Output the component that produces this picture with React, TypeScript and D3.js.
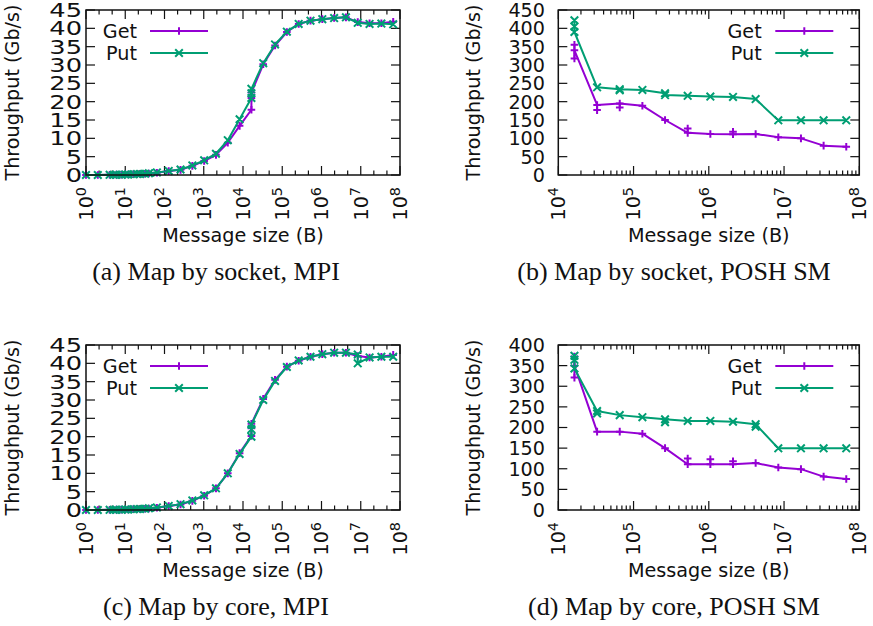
import React from "react";
import * as d3 from "d3";

// message sizes (bytes) and throughput (Gb/s), repeated sizes = repeated runs
const sizesSocketMPI = [1, 2, 4, 5, 6, 8, 10, 12, 16, 20, 24, 32, 40, 64, 128, 256, 512, 1024, 2048, 4096, 8192, 16384, 16384, 16384, 32768, 65536, 131072, 262144, 524288, 1048576, 2097152, 4194304, 8388608, 16777216, 33554432, 67108864];
const getSocketMPI = [0, 0, 0.05, 0.05, 0.1, 0.1, 0.15, 0.15, 0.2, 0.25, 0.3, 0.35, 0.4, 0.6, 1.1, 1.4, 2.5, 3.8, 5.5, 8.8, 13.4, 17.8, 21.0, 22.5, 30.2, 35.3, 39.0, 41.2, 42.1, 42.5, 42.8, 43.0, 41.7, 41.4, 41.4, 41.8];
const putSocketMPI = [0, 0, 0.05, 0.05, 0.1, 0.1, 0.15, 0.15, 0.2, 0.25, 0.3, 0.35, 0.45, 0.7, 1.1, 1.5, 2.6, 4.0, 5.8, 9.5, 15.2, 21.0, 22.3, 23.5, 30.5, 35.6, 39.1, 41.2, 42.1, 42.5, 42.8, 43.0, 41.5, 41.2, 41.3, 41.1];

const sizesSocketPOSH = [16384, 16384, 16384, 32768, 32768, 32768, 65536, 65536, 65536, 131072, 262144, 262144, 524288, 524288, 524288, 1048576, 2097152, 2097152, 2097152, 4194304, 8388608, 16777216, 33554432, 67108864];
const getSocketPOSH = [355, 318, 340, 191, 177, 191, 195, 184, 195, 189, 150, 150, 115, 127, 115, 112, 111, 118, 111, 112, 103, 100, 80, 77];
const putSocketPOSH = [422, 405, 390, 239, 239, 239, 234, 231, 234, 232, 223, 218, 216, 216, 216, 214, 213, 213, 213, 207, 149, 149, 149, 149];

const sizesCoreMPI = [1, 2, 4, 5, 6, 8, 10, 12, 16, 20, 24, 32, 40, 64, 128, 256, 512, 1024, 2048, 4096, 8192, 16384, 16384, 16384, 32768, 65536, 131072, 262144, 524288, 1048576, 2097152, 4194304, 8388608, 8388608, 16777216, 33554432, 67108864];
const getCoreMPI = [0, 0, 0.05, 0.05, 0.1, 0.1, 0.15, 0.15, 0.2, 0.25, 0.3, 0.35, 0.4, 0.6, 1.1, 1.5, 2.5, 3.9, 5.9, 10.0, 15.5, 20.2, 22.3, 23.5, 30.3, 35.5, 39.1, 40.7, 41.8, 42.5, 42.9, 42.9, 42.0, 42.0, 41.6, 41.8, 42.3];
const putCoreMPI = [0, 0, 0.05, 0.05, 0.1, 0.1, 0.15, 0.15, 0.2, 0.25, 0.3, 0.35, 0.45, 0.7, 1.1, 1.6, 2.6, 4.0, 5.9, 10.0, 15.3, 20.0, 22.0, 23.3, 30.0, 35.2, 39.0, 40.8, 41.8, 42.5, 42.9, 42.9, 42.4, 40.0, 41.6, 41.8, 41.8];

const sizesCorePOSH = [16384, 16384, 16384, 32768, 32768, 32768, 65536, 131072, 262144, 262144, 262144, 524288, 524288, 524288, 1048576, 1048576, 1048576, 2097152, 2097152, 2097152, 4194304, 4194304, 4194304, 8388608, 16777216, 33554432, 67108864];
const getCorePOSH = [372, 321, 350, 190, 190, 190, 190, 185, 150, 150, 150, 111, 125, 111, 111, 123, 111, 111, 118, 111, 114, 114, 114, 103, 99, 81, 75];
const putCorePOSH = [374, 364, 343, 240, 234, 240, 230, 225, 220, 213, 220, 216, 216, 216, 216, 216, 216, 214, 214, 214, 208, 202, 208, 149.5, 149.5, 149.5, 149.5];

const seriesNames = ["Get", "Put"];
const captions = [
  "(a) Map by socket, MPI",
  "(b) Map by socket, POSH SM",
  "(c) Map by core, MPI",
  "(d) Map by core, POSH SM",
];

const GET_COLOR = "#9400d3";
const PUT_COLOR = "#009e73";
const SANS = "DejaVu Sans, sans-serif";
const FS = 19.2;

function plusPath(x, y, r) {
  return `M${x - r},${y}h${2 * r}M${x},${y - r}v${2 * r}`;
}
function crossPath(x, y, r) {
  return `M${x - r},${y - r}l${2 * r},${2 * r}M${x - r},${y + r}l${2 * r},${-2 * r}`;
}

function Panel({
  left, right, top, bottom, xMinExp, yMax, yStep, sizes, get, put,
  legendSide, yLabelX, yTickEnd, yTickStretch, minorThirds,
}) {
  const x = d3.scaleLog().domain([10 ** xMinExp, 1e8]).range([left, right]);
  const y = d3.scaleLinear().domain([0, yMax]).range([bottom, top]);
  const exps = d3.range(xMinExp, 9);
  const minor = [];
  exps.slice(0, -1).forEach((e) => {
    if (minorThirds) {
      minor.push(10 ** (e + 1 / 3), 10 ** (e + 2 / 3));
    } else {
      for (let m = 2; m <= 9; m++) minor.push(m * 10 ** e);
    }
  });
  const yTicks = d3.range(0, yMax + 0.001, yStep);
  const line = d3.line().x((d) => x(d[0])).y((d) => y(d[1]));
  const getPts = sizes.map((s, i) => [s, get[i]]);
  const putPts = sizes.map((s, i) => [s, put[i]]);
  const major = 9;
  const minorLen = 4.5;
  const r = 3.8;

  let textEnd, lx0, lx1;
  if (legendSide === "left") {
    textEnd = left + 51;
    lx0 = left + 64;
    lx1 = left + 122;
  } else {
    textEnd = right - 97.6;
    lx0 = right - 84;
    lx1 = right - 26;
  }
  const rows = [top + 21, top + 43];

  return (
    <g fontFamily={SANS} fontSize={FS} fill="#111">
      {/* ticks */}
      <g stroke="#111" strokeWidth={1.2}>
        {exps.map((e) => (
          <g key={"mx" + e}>
            <line x1={x(10 ** e)} x2={x(10 ** e)} y1={bottom} y2={bottom - major} />
            <line x1={x(10 ** e)} x2={x(10 ** e)} y1={top} y2={top + major} />
          </g>
        ))}
        {minor.map((v, i) => (
          <g key={"mn" + i}>
            <line x1={x(v)} x2={x(v)} y1={bottom} y2={bottom - minorLen} />
            <line x1={x(v)} x2={x(v)} y1={top} y2={top + minorLen} />
          </g>
        ))}
        {yTicks.map((t) => (
          <g key={"yt" + t}>
            <line x1={left} x2={left + major} y1={y(t)} y2={y(t)} />
            <line x1={right} x2={right - major} y1={y(t)} y2={y(t)} />
          </g>
        ))}
      </g>
      {/* y tick labels */}
      {yTicks.map((t) => (
        <text
          key={"yl" + t}
          transform={`translate(${yTickEnd},${y(t)}) scale(${yTickStretch},1)`}
          textAnchor="end"
          dy="0.36em"
        >
          {t}
        </text>
      ))}
      {/* x tick labels */}
      {exps.map((e) => (
        <text
          key={"xl" + e}
          transform={`translate(${x(10 ** e)},${bottom + 12}) rotate(-90)`}
          textAnchor="end"
          dy="0.36em"
        >
          10
          <tspan dy="-0.5em" fontSize={14.4}>
            {e}
          </tspan>
        </text>
      ))}
      {/* axis titles */}
      <text x={(left + right) / 2} y={bottom + 67} textAnchor="middle">
        Message size (B)
      </text>
      <text
        transform={`translate(${yLabelX},${(top + bottom) / 2}) rotate(-90)`}
        textAnchor="middle"
        dy="0.36em"
      >
        Throughput (Gb/s)
      </text>
      {/* data */}
      <g fill="none" strokeWidth={2} strokeLinejoin="round">
        <path d={line(getPts)} stroke={GET_COLOR} />
        <path d={getPts.map((p) => plusPath(x(p[0]), y(p[1]), r)).join("")} stroke={GET_COLOR} />
        <path d={line(putPts)} stroke={PUT_COLOR} />
        <path d={putPts.map((p) => crossPath(x(p[0]), y(p[1]), r)).join("")} stroke={PUT_COLOR} />
      </g>
      {/* legend */}
      {seriesNames.map((name, i) => (
        <g key={name}>
          <text x={textEnd} y={rows[i]} textAnchor="end" dy="0.36em">
            {name}
          </text>
          <line x1={lx0} x2={lx1} y1={rows[i]} y2={rows[i]} stroke={i === 0 ? GET_COLOR : PUT_COLOR} strokeWidth={2} />
          <path
            d={i === 0 ? plusPath((lx0 + lx1) / 2, rows[i], r) : crossPath((lx0 + lx1) / 2, rows[i], r)}
            stroke={i === 0 ? GET_COLOR : PUT_COLOR}
            strokeWidth={2}
            fill="none"
          />
        </g>
      ))}
      {/* frame */}
      <rect x={left} y={top} width={right - left} height={bottom - top} fill="none" stroke="#111" strokeWidth={1.5} />
    </g>
  );
}

export default function App() {
  const left1 = 86, right1 = 400, left2 = 558.3, right2 = 859.3;
  return (
    <div style={{ position: "absolute", left: 0, top: 0 }}>
      <svg width={873} height={626} style={{ display: "block", background: "#fff" }}>
        <Panel left={left1} right={right1} top={10} bottom={175} xMinExp={0} yMax={45} yStep={5}
          sizes={sizesSocketMPI} get={getSocketMPI} put={putSocketMPI} legendSide="left"
          yLabelX={12} yTickEnd={82} yTickStretch={1.34} minorThirds={true} />
        <Panel left={left2} right={right2} top={10} bottom={175} xMinExp={4} yMax={450} yStep={50}
          sizes={sizesSocketPOSH} get={getSocketPOSH} put={putSocketPOSH} legendSide="right"
          yLabelX={473} yTickEnd={545} yTickStretch={1} minorThirds={false} />
        <Panel left={left1} right={right1} top={345} bottom={510} xMinExp={0} yMax={45} yStep={5}
          sizes={sizesCoreMPI} get={getCoreMPI} put={putCoreMPI} legendSide="left"
          yLabelX={12} yTickEnd={82} yTickStretch={1.34} minorThirds={true} />
        <Panel left={left2} right={right2} top={345} bottom={510} xMinExp={4} yMax={400} yStep={50}
          sizes={sizesCorePOSH} get={getCorePOSH} put={putCorePOSH} legendSide="right"
          yLabelX={473} yTickEnd={545} yTickStretch={1} minorThirds={false} />
        <g fontFamily="Liberation Serif, serif" fontSize={26} fill="#111" textAnchor="middle">
          <text x={216} y={280}>{captions[0]}</text>
          <text x={674} y={280}>{captions[1]}</text>
          <text x={216} y={615}>{captions[2]}</text>
          <text x={674} y={615}>{captions[3]}</text>
        </g>
      </svg>
    </div>
  );
}
